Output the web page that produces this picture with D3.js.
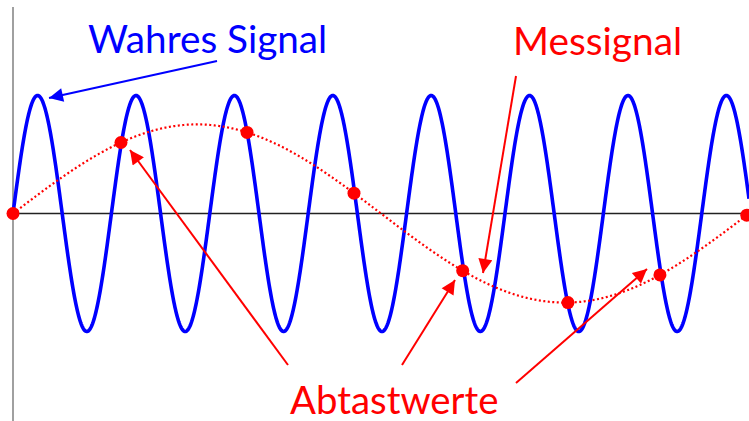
<!DOCTYPE html>
<html><head><meta charset="utf-8">
<script src="https://cdn.jsdelivr.net/npm/d3@7"></script>
<style>html,body{margin:0;padding:0;background:#fff;overflow:hidden}</style>
</head><body>
<svg id="c" width="749" height="421"></svg>
<script>
// Signal parameters (time normalised to 0..1 across the plot)
const trueFreq = 7.48;   // cycles of the true signal across the plot
const trueAmp = 1.0;
const measFreq = 1;      // cycles of the aliased (measured) signal
const measAmp = 0.755;
// sample instants (Abtastwerte)
const sampleTimes = [0, 0.1467, 0.318, 0.4633, 0.611, 0.754, 0.879, 0.997];
const labels = ["Wahres Signal", "Messignal", "Abtastwerte"];

const svg = d3.select("#c");
const x = d3.scaleLinear().domain([0, 1]).range([13, 749]);
const y = d3.scaleLinear().domain([-1, 1]).range([331.5, 95.5]);

const N = 1500;
const ts = d3.range(N + 1).map(i => i / N);
const trueSig = t => trueAmp * Math.sin(2 * Math.PI * trueFreq * t);
const measSig = t => measAmp * Math.sin(2 * Math.PI * measFreq * t);

// axes
svg.append("line").attr("x1", x(0)).attr("x2", x(0)).attr("y1", 7).attr("y2", 421)
  .attr("stroke", "#808080").attr("stroke-width", 1.5);
svg.append("line").attr("x1", x(0)).attr("x2", 749).attr("y1", y(0)).attr("y2", y(0))
  .attr("stroke", "#222").attr("stroke-width", 1.5);

const line = f => d3.line().x(t => x(t)).y(t => y(f(t)));

svg.append("path").datum(ts).attr("d", line(trueSig)).attr("fill", "none")
  .attr("stroke", "#0000ff").attr("stroke-width", 3.6);
svg.append("path").datum(ts).attr("d", line(measSig)).attr("fill", "none")
  .attr("stroke", "#ff0000").attr("stroke-width", 2.2).attr("stroke-dasharray", "2,2.5");

svg.selectAll("circle.s").data(sampleTimes).enter().append("circle")
  .attr("class", "s").attr("cx", d => x(d)).attr("cy", d => y(measSig(d)))
  .attr("r", 6.5).attr("fill", "#ff0000");

// arrows
const defs = svg.append("defs");
function marker(id, col) {
  defs.append("marker").attr("id", id).attr("viewBox", "0 0 10 10")
    .attr("refX", 10).attr("refY", 5).attr("markerWidth", 17).attr("markerHeight", 14)
    .attr("markerUnits", "userSpaceOnUse").attr("orient", "auto")
    .append("path").attr("d", "M0,0 L10,5 L0,10 Z").attr("fill", col);
}
marker("ab", "#0000ff");
marker("ar", "#ff0000");
const arrows = [
  [217, 61, 49, 98, "#0000ff", "ab"],
  [516, 76, 483, 273, "#ff0000", "ar"],
  [288, 365, 130, 150, "#ff0000", "ar"],
  [402, 365, 455, 280, "#ff0000", "ar"],
  [516, 383, 647, 269, "#ff0000", "ar"]
];
arrows.forEach(a => {
  svg.append("line").attr("x1", a[0]).attr("y1", a[1]).attr("x2", a[2]).attr("y2", a[3])
    .attr("stroke", a[4]).attr("stroke-width", 2).attr("marker-end", `url(#${a[5]})`);
});

// labels
const font = "Lato, 'Open Sans', sans-serif";
svg.append("text").attr("x", 88).attr("y", 53).text(labels[0])
  .attr("fill", "#0000ff").attr("font-family", font).attr("font-size", 38.7);
svg.append("text").attr("x", 513).attr("y", 55).text(labels[1])
  .attr("fill", "#ff0000").attr("font-family", font).attr("font-size", 38.8);
svg.append("text").attr("x", 290).attr("y", 414).text(labels[2])
  .attr("fill", "#ff0000").attr("font-family", font).attr("font-size", 38.4);
</script>
</body></html>
